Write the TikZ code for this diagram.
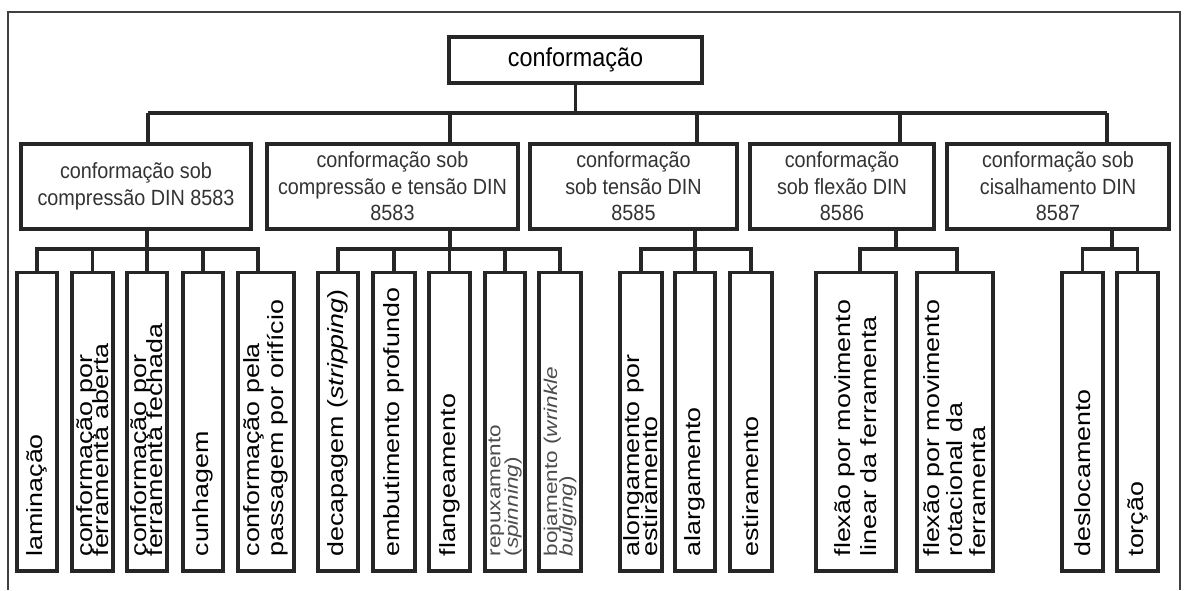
\documentclass[tikz,border=0pt]{standalone}
\usepackage{fontspec}
\setmainfont{Liberation Sans}
\newfontfamily\boxfont[FakeStretch=0.9]{Liberation Sans}
\newfontfamily\leaffont[FakeStretch=1.22]{Liberation Sans}

\begin{document}
\begin{tikzpicture}[
  x=1pt,y=-1pt,
  topbox/.style={draw=black!85,line width=3.6pt,minimum width=253pt,minimum height=46pt,
                 font=\boxfont\fontsize{26}{30}\selectfont,inner sep=0pt},
  secbox/.style={draw=black!85,line width=3.4pt,minimum height=85pt,inner sep=0pt,
                 align=center,font=\boxfont\fontsize{22}{26.5}\selectfont,text=black!80},
  leafbox/.style={draw=black!85,line width=3.2pt,minimum height=298.5pt,inner sep=0pt},
  leaftext/.style={rotate=90,anchor=west,inner sep=0pt,align=left,
                   font=\leaffont\fontsize{22}{24}\selectfont},
  thintext/.style={leaftext,font=\leaffont\fontsize{18.5}{17.5}\selectfont,text=black!70},
  conn/.style={draw=black!85,line width=3.2pt},
]

% Page and frame
\fill[white] (0,0) rectangle (1184,590);
\useasboundingbox (0,0) rectangle (1184,590);
\draw[black!75,line width=1.6pt] (8,590) -- (8,12) -- (1180,12) -- (1180,590);

% Top
\node[topbox] (conf) at (575.5,60) {conformação};

% Second level
\node[secbox,minimum width=230pt] (comp) at (136,186.5) {conformação sob\\compressão DIN 8583};
\node[secbox,minimum width=251pt] (ctens) at (392.5,186.5) {conformação sob\\compressão e tensão DIN\\8583};
\node[secbox,minimum width=207pt] (tens) at (633.5,186.5) {conformação\\sob tensão DIN\\8585};
\node[secbox,minimum width=184pt] (flex) at (842,186.5) {conformação\\sob flexão DIN\\8586};
\node[secbox,minimum width=222pt] (cis) at (1058,186.5) {conformação sob\\cisalhamento DIN\\8587};

% Bus junctions
\coordinate (jA) at (148,113);
\coordinate (jB) at (450,113);
\coordinate (jC) at (697,113);
\coordinate (jD) at (900,113);
\coordinate (jE) at (1107,113);

\draw[conn] (conf.south) -- (conf.south |- jA);
\draw[conn] (jA) -- (jE);
\foreach \j/\b in {jA/comp,jB/ctens,jC/tens,jD/flex,jE/cis}
  \draw[conn] (\j) -- (\j |- \b.north);

% Leaves: compression
\node[leafbox,minimum width=40pt] (lam) at (37,421.75) {};
\node[leafbox,minimum width=41pt] (fab) at (92.5,421.75) {};
\node[leafbox,minimum width=40pt] (ffe) at (147,421.75) {};
\node[leafbox,minimum width=40pt] (cun) at (203,421.75) {};
\node[leafbox,minimum width=56pt] (ori) at (266,421.75) {};

% Leaves: compression and tension
\node[leafbox,minimum width=40pt] (dec) at (338,421.75) {};
\node[leafbox,minimum width=42pt] (emb) at (394,421.75) {};
\node[leafbox,minimum width=41pt] (fla) at (449.5,421.75) {};
\node[leafbox,minimum width=40pt] (rep) at (505,421.75) {};
\node[leafbox,minimum width=42pt] (boj) at (560,421.75) {};

% Leaves: tension
\node[leafbox,minimum width=42pt] (alo) at (641,421.75) {};
\node[leafbox,minimum width=40pt] (ala) at (695,421.75) {};
\node[leafbox,minimum width=42pt] (est) at (751,421.75) {};

% Leaves: bending
\node[leafbox,minimum width=80pt] (fli) at (856,421.75) {};
\node[leafbox,minimum width=76pt] (fro) at (955,421.75) {};

% Leaves: shearing
\node[leafbox,minimum width=41pt] (des) at (1082.5,421.75) {};
\node[leafbox,minimum width=41pt] (tor) at (1137.5,421.75) {};

% Leaf texts
\node[leaftext] (lam-t) at ([yshift=16pt]lam.south) {laminação};
\node[leaftext] (fab-t) at ([yshift=16pt]fab.south) {conformação por\\[-8pt]ferramenta aberta};
\node[leaftext] (ffe-t) at ([yshift=16pt]ffe.south) {conformação por\\[-8pt]ferramenta fechada};
\node[leaftext] (cun-t) at ([yshift=16pt]cun.south) {cunhagem};
\node[leaftext] (ori-t) at ([yshift=16pt]ori.south) {conformação pela\\passagem por orifício};
\node[leaftext] (dec-t) at ([yshift=16pt]dec.south) {decapagem (\textit{stripping})};
\node[leaftext] (emb-t) at ([yshift=16pt]emb.south) {embutimento profundo};
\node[leaftext] (fla-t) at ([yshift=16pt]fla.south) {flangeamento};
\node[thintext] (rep-t) at ([yshift=16pt]rep.south) {repuxamento\\(\textit{spinning})};
\node[thintext] (boj-t) at ([yshift=16pt]boj.south) {bojamento (\textit{wrinkle}\\[-2pt]\textit{bulging})};
\node[leaftext] (alo-t) at ([yshift=16pt]alo.south) {alongamento por\\[-6pt]estiramento};
\node[leaftext] (ala-t) at ([yshift=16pt]ala.south) {alargamento};
\node[leaftext] (est-t) at ([yshift=16pt]est.south) {estiramento};
\node[leaftext] (fli-t) at ([yshift=16pt]fli.south) {flexão por movimento\\[2pt]linear da ferramenta};
\node[leaftext] (fro-t) at ([yshift=16pt]fro.south) {flexão por movimento\\[-1pt]rotacional da\\[-1pt]ferramenta};
\node[leaftext] (des-t) at ([yshift=16pt]des.south) {deslocamento};
\node[leaftext] (tor-t) at ([yshift=16pt]tor.south) {torção};

% Sub-bus junctions
\coordinate (sA) at (147,249);
\coordinate (sB) at (450,249);
\coordinate (sC) at (695,249);
\coordinate (sD) at (896,249);
\coordinate (sE) at (1112,249);

\draw[conn] (sA |- comp.south) -- (sA);
\draw[conn] (sB |- ctens.south) -- (sB);
\draw[conn] (sC |- tens.south) -- (sC);
\draw[conn] (sD |- flex.south) -- (sD);
\draw[conn] (sE |- cis.south) -- (sE);

\draw[conn] (lam.north) |- (sA) -| ([xshift=-8pt]ori.north);
\draw[conn] (dec.north) |- (sB) -| (boj.north);
\draw[conn] (alo.north) |- (sC) -| (est.north);
\draw[conn] ([xshift=4pt]fli.north) |- (sD) -| ([xshift=2pt]fro.north);
\draw[conn] (des.north) |- (sE) -| (tor.north);
\foreach \n/\s in {fab/sA,ffe/sA,cun/sA,emb/sB,fla/sB,rep/sB,ala/sC}
  \draw[conn] (\n.north) -- (\n.north |- \s);

\end{tikzpicture}
\end{document}
